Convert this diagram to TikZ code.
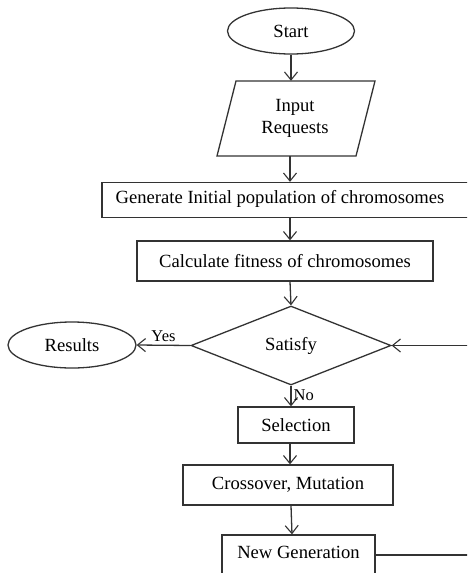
\documentclass[tikz,border=0pt]{standalone}
\usepackage{fontspec}
\setmainfont{Liberation Serif}
\usetikzlibrary{shapes.geometric,arrows.meta}
\begin{document}
\begin{tikzpicture}[x=1pt,y=-1pt,
  every node/.style={font=\fontsize{18.6}{21}\selectfont, inner sep=0pt},
  line/.style={line width=1.3pt, draw=black!80},
  arr/.style={line, -{Straight Barb[length=8pt,width=13pt,line width=1.1pt]}},
  term/.style={ellipse, line, minimum width=127pt, minimum height=46pt},
  procbox/.style={rectangle, line, minimum height=#1},
  dec/.style={diamond, line, minimum width=200pt, minimum height=79pt},
  lbl/.style={font=\fontsize{16.5}{19}\selectfont}
]
\useasboundingbox (0,0) rectangle (467,573);
\clip (0,0) rectangle (467,573);
\fill[white] (0,0) rectangle (467,573);

\node[term] (start) at (291,31) {Start};
\draw[line] (236,81) -- (375,81) -- (356,156) -- (217,156) -- cycle;
\node[minimum width=120pt, minimum height=75pt, align=center] (inp) at (295,118.5) {Input\\[1pt]Requests};
\node[procbox=35pt, minimum width=376pt] (gen) at (290,200) {};
\node at (280,199) {Generate Initial population of chromosomes};
\node[procbox=40pt, minimum width=296pt] (calc) at (285,261) {Calculate fitness of chromosomes};
\node[dec] (sat) at (291,345.5) {Satisfy};
\node[term, minimum width=128pt] (res) at (72,345) {Results};
\node[procbox=36pt, minimum width=116pt] (sel) at (296,425) {Selection};
\node[procbox=40pt, minimum width=210pt] (cm) at (288,485) {Crossover, Mutation};
\node[procbox=40pt, minimum width=153pt, text depth=6pt] (ng) at (298.5,555) {New Generation};

\coordinate (rb) at (472,555);
\coordinate (rt) at (472,345.5);

\draw[arr] (start) -- (inp.north -| start.south);
\draw[arr] (290,156) -- (gen.north -| 290,0);
\draw[arr] (gen.south -| 290,0) -- (calc.north -| 290,0);
\draw[arr] (calc.south -| 290,0) -- (sat.north);
\draw[arr] (sat.west) -- (res.east) node[lbl, pos=0.5, above=3pt] {Yes};
\draw[arr] (sat.south) -- (sel.north -| sat.south) node[lbl, pos=0.45, right=2pt] {No};
\draw[arr] (sel.south -| 290,0) -- (cm.north -| 290,0);
\draw[arr] (cm.south -| 291,0) -- (ng.north -| 292,0);
\draw[line] (ng.east) -- (rb);
\draw[line] (rb) -- (rt);
\draw[arr] (rt) -- (sat.east);
\end{tikzpicture}
\end{document}
